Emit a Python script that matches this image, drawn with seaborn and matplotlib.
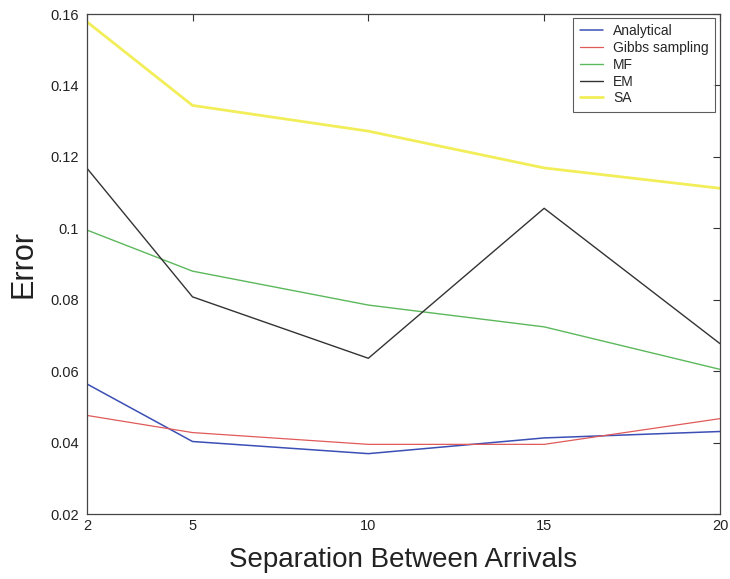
import numpy as np
import pandas as pd
import seaborn as sns
import matplotlib.pyplot as plt

separation = [2, 5, 10, 15, 20]
analytical = [0.0564, 0.0403, 0.0369, 0.0413, 0.0431]
gibbs = [0.0476, 0.0428, 0.0395, 0.0395, 0.0467]
mf = [0.0995, 0.0880, 0.0785, 0.0724, 0.0605]
em = [0.1168, 0.0808, 0.0636, 0.1056, 0.0677]
sa = [0.1578, 0.1344, 0.1272, 0.1169, 0.1112]

methods = ["Analytical", "Gibbs sampling", "MF", "EM", "SA"]
colors = ["#3b4fb5", "#e05a5a", "#5cb85c", "#333333", "#f2ee5a"]
widths = [1.1, 0.9, 1.0, 1.0, 2.0]

rows = []
for name, vals in zip(methods, [analytical, gibbs, mf, em, sa]):
    for s, v in zip(separation, vals):
        rows.append({"Separation": s, "Error": v, "Method": name})
df = pd.DataFrame(rows)

sns.set_style("white")
plt.rcParams['font.family'] = ['Liberation Sans', 'DejaVu Sans']

fig = plt.figure(figsize=(7.3, 5.79), dpi=100)
ax = fig.add_axes([87 / 730, 65 / 579, 633 / 730, 500 / 579])

sns.lineplot(data=df, x="Separation", y="Error", hue="Method",
             hue_order=methods, palette=colors, ax=ax, legend=True)
for line, w in zip(ax.get_lines(), widths):
    line.set_linewidth(w)

ax.set_xlim(2, 20)
ax.set_ylim(0.02, 0.16)
ax.set_xticks([2, 5, 10, 15, 20])
ax.set_xticklabels(["2", "5", "10", "15", "20"])
yt = [0.02, 0.04, 0.06, 0.08, 0.1, 0.12, 0.14, 0.16]
ax.set_yticks(yt)
ax.set_yticklabels(["0.02", "0.04", "0.06", "0.08", "0.1", "0.12", "0.14", "0.16"])
ax.tick_params(direction="in", length=5, width=0.8, labelsize=10.5,
               top=True, right=True, colors="#333333", labelcolor="#222222")
ax.tick_params(axis="y", pad=6)
for sp in ax.spines.values():
    sp.set_color("#444444")
    sp.set_linewidth(0.9)

ax.set_xlabel("Separation Between Arrivals", fontsize=20, color="#222222", labelpad=10)
ax.set_ylabel("Error", fontsize=22, color="#222222", labelpad=8)

leg = ax.legend(loc="upper right", fontsize=10, frameon=True, fancybox=False,
                handlelength=1.7, handletextpad=0.7, borderpad=0.45,
                labelspacing=0.2, borderaxespad=0,
                bbox_to_anchor=(0.992, 0.992))
leg.get_frame().set_edgecolor("#333333")
leg.get_frame().set_linewidth(0.8)
for h, w in zip(leg.get_lines(), widths):
    h.set_linewidth(w)

fig.savefig("out.png", dpi=100)
